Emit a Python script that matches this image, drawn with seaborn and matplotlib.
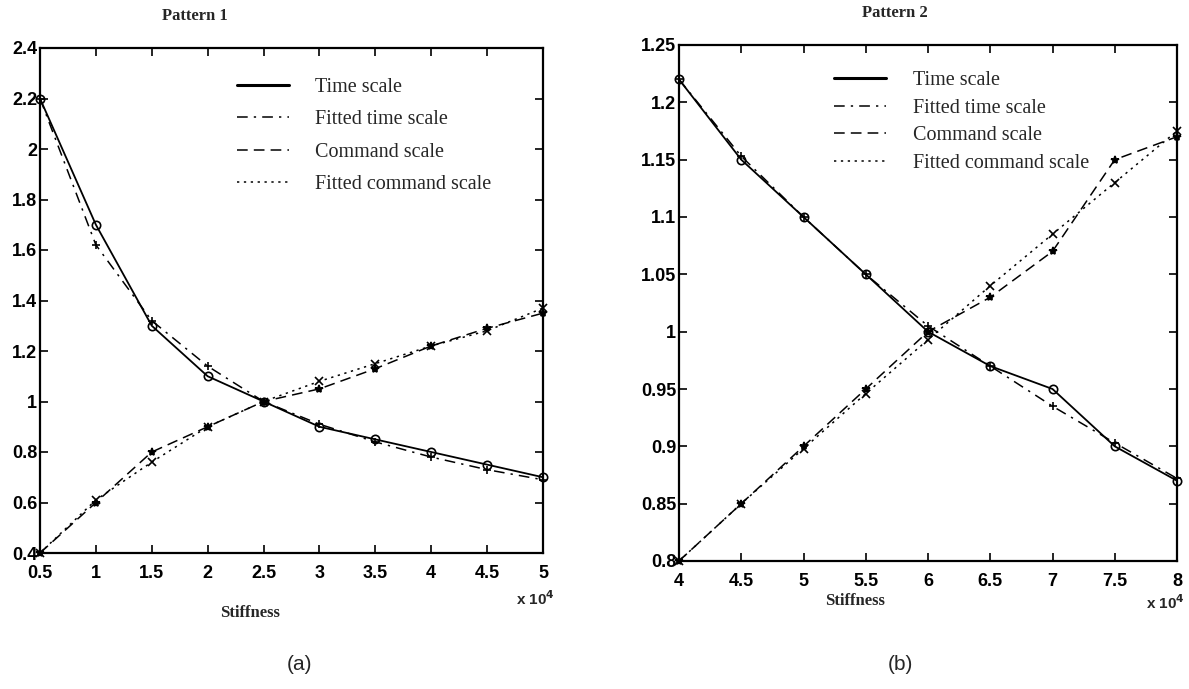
import numpy as np
import pandas as pd
import matplotlib
matplotlib.use("Agg")
import matplotlib.pyplot as plt
from matplotlib.lines import Line2D
import seaborn as sns

# ---- data ----
x1 = [0.5, 1.0, 1.5, 2.0, 2.5, 3.0, 3.5, 4.0, 4.5, 5.0]
p1_time = [2.2, 1.7, 1.3, 1.1, 1.0, 0.9, 0.85, 0.8, 0.75, 0.7]
p1_fit_time = [2.2, 1.62, 1.32, 1.14, 1.0, 0.91, 0.84, 0.78, 0.73, 0.69]
p1_cmd = [0.4, 0.6, 0.8, 0.9, 1.0, 1.05, 1.13, 1.22, 1.29, 1.35]
p1_fit_cmd = [0.4, 0.61, 0.76, 0.9, 1.0, 1.08, 1.15, 1.22, 1.28, 1.37]

x2 = [4.0, 4.5, 5.0, 5.5, 6.0, 6.5, 7.0, 7.5, 8.0]
p2_time = [1.22, 1.15, 1.1, 1.05, 1.0, 0.97, 0.95, 0.9, 0.87]
p2_fit_time = [1.22, 1.153, 1.1, 1.05, 1.005, 0.97, 0.935, 0.903, 0.872]
p2_cmd = [0.8, 0.85, 0.9, 0.95, 1.0, 1.03, 1.07, 1.15, 1.17]
p2_fit_cmd = [0.8, 0.85, 0.898, 0.946, 0.993, 1.04, 1.085, 1.13, 1.175]

series_names = ["Time scale", "Fitted time scale", "Command scale", "Fitted command scale"]
xticks1 = [0.5, 1, 1.5, 2, 2.5, 3, 3.5, 4, 4.5, 5]
yticks1 = [0.4, 0.6, 0.8, 1.0, 1.2, 1.4, 1.6, 1.8, 2.0, 2.2, 2.4]
xticks2 = [4, 4.5, 5, 5.5, 6, 6.5, 7, 7.5, 8]
yticks2 = [0.8, 0.85, 0.9, 0.95, 1.0, 1.05, 1.1, 1.15, 1.2, 1.25]

def fmt(v):
    return "%g" % v

sns.set_theme(style="white")
plt.rcParams["font.family"] = ["Liberation Sans", "DejaVu Sans"]

fig = plt.figure(figsize=(11.89, 6.89), dpi=100)
W, H = 1189, 689
def axrect(x0, y0, x1, y1):
    return [x0 / W, 1 - y1 / H, (x1 - x0) / W, (y1 - y0) / H]

ax1 = fig.add_axes(axrect(40, 48, 543, 553))
ax2 = fig.add_axes(axrect(679, 45, 1177, 561))

styles = [
    dict(linestyle="-", marker="o", lw=1.3),
    dict(linestyle=(0, (7, 4, 1.5, 4)), marker="+", lw=1.1),
    dict(linestyle=(0, (7, 4)), marker="*", lw=1.1),
    dict(linestyle=(0, (1.5, 3)), marker="x", lw=1.1),
]

def draw(ax, x, ys):
    for name, y, st in zip(series_names, ys, styles):
        df = pd.DataFrame({"x": x, "y": y})
        sns.lineplot(data=df, x="x", y="y", ax=ax, color="black",
                     linestyle=st["linestyle"], linewidth=st["lw"],
                     marker=st["marker"], markersize=6,
                     markerfacecolor="none" if st["marker"] == "o" else "black",
                     markeredgecolor="black", markeredgewidth=1.2, clip_on=False)

draw(ax1, x1, [p1_time, p1_fit_time, p1_cmd, p1_fit_cmd])
draw(ax2, x2, [p2_time, p2_fit_time, p2_cmd, p2_fit_cmd])

tick_font = dict(fontfamily="Liberation Sans", fontweight="bold", fontsize=13)

for ax, xt, yt, xl, yl in [(ax1, xticks1, yticks1, (0.5, 5), (0.4, 2.4)),
                           (ax2, xticks2, yticks2, (4, 8), (0.8, 1.25))]:
    ax.set_xlim(*xl)
    ax.set_ylim(*yl)
    ax.set_xticks(xt)
    ax.set_yticks(yt)
    ax.set_xticklabels([fmt(v) for v in xt], **tick_font)
    ax.set_yticklabels([fmt(v) for v in yt], **tick_font)
    ax.set_xlabel("")
    ax.set_ylabel("")
    ax.tick_params(direction="in", length=6, width=1.2, top=True, right=True,
                   bottom=True, left=True, colors="black")
    ax.tick_params(axis="x", pad=9)
    ax.tick_params(axis="y", pad=2)
    for sp in ax.spines.values():
        sp.set_visible(True)
        sp.set_color("black")
        sp.set_linewidth(1.6)
    ax.set_facecolor("white")

# legends (lines only, no markers, no frame)
handles = [Line2D([0], [0], color="black", linestyle=st["linestyle"],
                  linewidth=(2.2 if i == 0 else 1.1)) for i, st in enumerate(styles)]
leg_font = dict(family="Liberation Serif", size=14.5)
ax1.legend(handles, series_names, loc="upper left", bbox_to_anchor=(0.375, 0.957),
           frameon=False, prop=leg_font, handlelength=2.6, handletextpad=1.3,
           labelspacing=0.66, borderaxespad=0.0)
ax2.legend(handles, series_names, loc="upper left", bbox_to_anchor=(0.295, 0.965),
           frameon=False, prop=leg_font, handlelength=2.6, handletextpad=1.3,
           labelspacing=0.42, borderaxespad=0.0)

serif_b = dict(fontfamily="Liberation Serif", fontweight="bold", fontsize=12)
fig.text(195 / W, 1 - 16 / H, "Pattern 1", ha="center", va="center", **serif_b)
fig.text(895 / W, 1 - 13 / H, "Pattern 2", ha="center", va="center", **serif_b)
fig.text(250 / W, 1 - 613 / H, "Stiffness", ha="center", va="center", **serif_b)
fig.text(855 / W, 1 - 601 / H, "Stiffness", ha="center", va="center", **serif_b)

fig.text(555 / W, 1 - 599 / H, r"x 10$^{\mathbf{4}}$", ha="right", va="center",
         fontfamily="Liberation Sans", fontweight="bold", fontsize=11)
fig.text(1185 / W, 1 - 603 / H, r"x 10$^{\mathbf{4}}$", ha="right", va="center",
         fontfamily="Liberation Sans", fontweight="bold", fontsize=11)

fig.text(300 / W, 1 - 665 / H, "(a)", ha="center", va="center",
         fontfamily="Liberation Sans", fontsize=15)
fig.text(900 / W, 1 - 665 / H, "(b)", ha="center", va="center",
         fontfamily="Liberation Sans", fontsize=15)

fig.savefig("out.png", dpi=100, facecolor="white")
